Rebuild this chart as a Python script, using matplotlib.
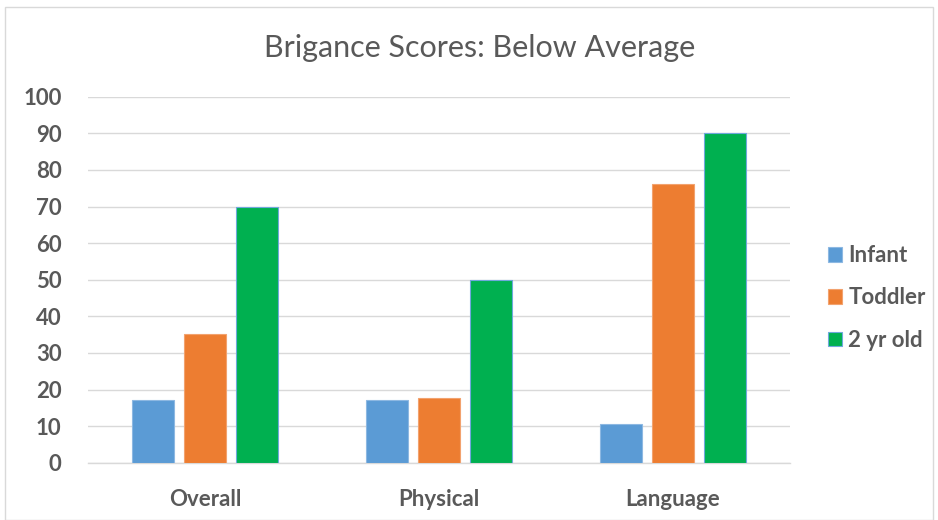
import matplotlib
matplotlib.use("Agg")
import matplotlib.pyplot as plt
import numpy as np
from matplotlib.patches import Rectangle

categories = ["Overall", "Physical", "Language"]
series_names = ["Infant", "Toddler", "2 yr old"]
infant = [17, 17, 10.6]
toddler = [35.3, 17.6, 76.2]
two_yr = [70, 50, 90]
yticks = [0, 10, 20, 30, 40, 50, 60, 70, 80, 90, 100]

colors = ["#5B9BD5", "#ED7D31", "#00B050"]
edges = ["#8DB8E2", "#F2A26E", "#6FA8DC"]
txt = "#595959"
font = ["Lato", "DejaVu Sans"]

fig = plt.figure(figsize=(9.38, 5.2), dpi=100)
ax = fig.add_axes([88/938, 1-462.7/520, (790-88)/938, (462.7-96.7)/520])

x = np.arange(len(categories))
w = 0.177
step = 0.2225
for i, (vals, name) in enumerate(zip([infant, toddler, two_yr], series_names)):
    ax.bar(x + (i-1)*step, vals, width=w, color=colors[i], edgecolor=edges[i],
           linewidth=0.8, label=name, zorder=3)

ax.set_xlim(-0.5, 2.5)
ax.set_ylim(0, 100)
ax.set_yticks(yticks)
ax.set_xticks(x)
ax.set_xticklabels(categories, fontsize=16, fontweight="bold", color=txt, family=font)
ax.set_yticklabels([str(t) for t in yticks], fontsize=16, fontweight="bold", color=txt, family=font)
ax.tick_params(axis="both", length=0)
ax.tick_params(axis="y", pad=19)
ax.tick_params(axis="x", pad=19)
ax.grid(axis="y", color="#D9D9D9", linewidth=1.0, zorder=0)
for s in ["top", "right", "left"]:
    ax.spines[s].set_visible(False)
ax.spines["bottom"].set_color("#D9D9D9")
ax.spines["bottom"].set_linewidth(1.0)

fig.text(480/938, 1-48/520, "Brigance Scores: Below Average", ha="center", va="center",
         fontsize=22, color=txt, family=font)

leg = fig.legend(*ax.get_legend_handles_labels(), loc="center left",
                 bbox_to_anchor=(828/938, 1-298/520), bbox_transform=fig.transFigure,
                 frameon=False,
                 prop={"family": font, "size": 16, "weight": "bold"},
                 handlelength=0.62, handleheight=0.62, handletextpad=0.3,
                 labelspacing=0.95, borderaxespad=0.0, borderpad=0.0)
for t in leg.get_texts():
    t.set_color(txt)

fig.patches.append(Rectangle((5/938, 0), 1-10/938, 1-7/520, transform=fig.transFigure,
                             fill=False, edgecolor="#D9D9D9", linewidth=1.0))

fig.savefig("out.png", dpi=100)
